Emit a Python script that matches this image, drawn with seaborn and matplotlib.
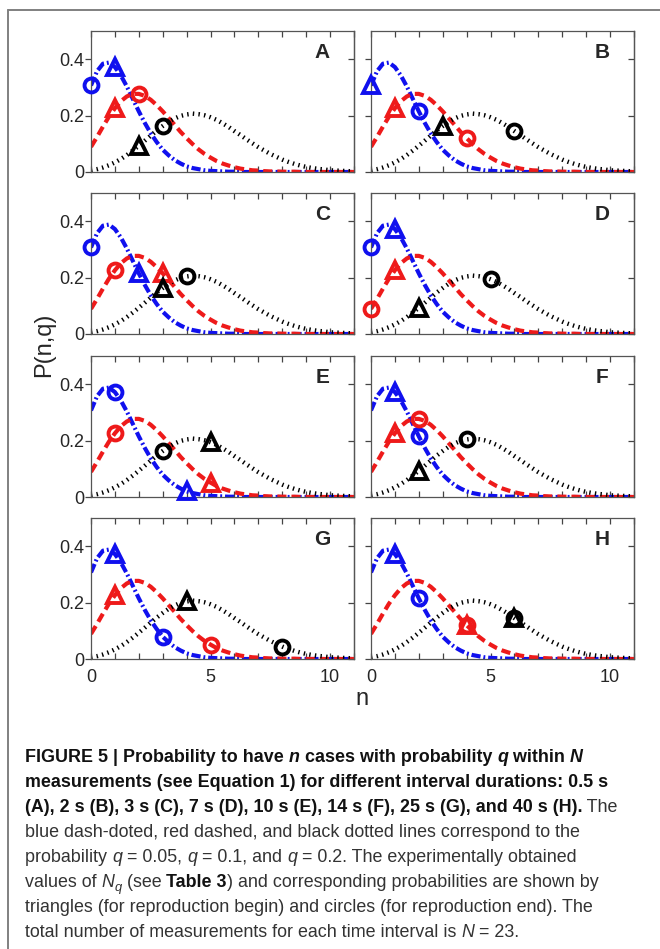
import numpy as np
import matplotlib
matplotlib.use("Agg")
import matplotlib.pyplot as plt
import seaborn as sns
from matplotlib import font_manager
from matplotlib.lines import Line2D

sns.set_style("ticks")
plt.rcParams["font.family"] = ["Liberation Sans", "DejaVu Sans"]

n_grid = [0, 0.25, 0.5, 0.75, 1, 1.25, 1.5, 1.75, 2, 2.25, 2.5, 2.75, 3, 3.25, 3.5, 3.75,
          4, 4.25, 4.5, 4.75, 5, 5.25, 5.5, 5.75, 6, 6.25, 6.5, 6.75, 7, 7.25, 7.5, 7.75,
          8, 8.25, 8.5, 8.75, 9, 9.25, 9.5, 9.75, 10, 10.25, 10.5, 10.75, 11]
p_q005 = [0.307, 0.357, 0.384, 0.388, 0.372, 0.342, 0.303, 0.259, 0.215, 0.174, 0.137, 0.106,
          0.079, 0.059, 0.042, 0.030, 0.020, 0.014, 0.010, 0.006, 0.004, 0.003, 0.002, 0.001,
          0.001, 0, 0, 0, 0, 0, 0, 0, 0, 0, 0, 0, 0, 0, 0, 0, 0, 0, 0, 0, 0]
p_q01 = [0.089, 0.124, 0.161, 0.196, 0.226, 0.251, 0.268, 0.277, 0.277, 0.270, 0.256, 0.237,
         0.215, 0.191, 0.167, 0.142, 0.120, 0.099, 0.080, 0.064, 0.051, 0.039, 0.030, 0.023,
         0.017, 0.012, 0.009, 0.006, 0.005, 0.003, 0.002, 0.002, 0.001, 0.001, 0.001,
         0, 0, 0, 0, 0, 0, 0, 0, 0, 0]
p_q02 = [0.006, 0.010, 0.016, 0.024, 0.034, 0.046, 0.060, 0.076, 0.093, 0.111, 0.129, 0.147,
         0.163, 0.178, 0.190, 0.199, 0.204, 0.207, 0.205, 0.201, 0.194, 0.185, 0.173, 0.160,
         0.145, 0.131, 0.116, 0.102, 0.088, 0.076, 0.064, 0.054, 0.044, 0.036, 0.029, 0.023,
         0.018, 0.014, 0.011, 0.009, 0.006, 0.005, 0.004, 0.003, 0.002]

panels = ["A", "B", "C", "D", "E", "F", "G", "H"]
# experimental N_q per panel: triangles = reproduction begin, circles = reproduction end
tri_q005 = [1, 0, 2, 1, 4, 1, 1, 1]
circ_q005 = [0, 2, 0, 0, 1, 2, 3, 2]
tri_q01 = [1, 1, 3, 1, 5, 1, 1, 4]
circ_q01 = [2, 4, 1, 0, 1, 2, 5, 4]
tri_q02 = [2, 3, 3, 2, 5, 2, 4, 6]
circ_q02 = [3, 6, 4, 5, 3, 4, 8, 6]

series = [
    (p_q005, tri_q005, circ_q005, "#1010ee", (0, (2.2, 0.7, 0.45, 0.7)), 3.0),
    (p_q01, tri_q01, circ_q01, "#ee1a1a", (0, (2.2, 1.2)), 3.0),
    (p_q02, tri_q02, circ_q02, "black", (0, (0.32, 0.95)), 3.2),
]

W, H = 660, 949
fig = plt.figure(figsize=(W / 100, H / 100), dpi=100)
col_left = [91, 371]
row_top = [31, 193, 356, 518]
aw, ah = 263, 141
xlabels = ["0", "", "", "", "", "5", "", "", "", "", "10", ""]

for i, lab in enumerate(panels):
    r, c = divmod(i, 2)
    ax = fig.add_axes([col_left[c] / W, 1 - (row_top[r] + ah) / H, aw / W, ah / H])
    for vals, tri, circ, color, ls, lw in series:
        sns.lineplot(x=n_grid, y=vals, ax=ax, color=color, lw=lw, linestyle=ls)
    for vals, tri, circ, color, ls, lw in series:
        ax.plot([circ[i]], [vals[n_grid.index(circ[i])]], marker="o", ms=10, mfc="none",
                mec=color, mew=2.8, ls="none", zorder=5, clip_on=False)
        ax.plot([tri[i]], [vals[n_grid.index(tri[i])]], marker="^", ms=12, mfc="none",
                mec=color, mew=2.8, ls="none", zorder=5, clip_on=False)
    ax.set_xlim(0, 11)
    ax.set_ylim(0, 0.5)
    ax.set_xticks(range(12))
    ax.set_yticks([0, 0.2, 0.4])
    ax.set_xticklabels(xlabels if r == 3 else [""] * 12)
    ax.set_yticklabels(["0", "0.2", "0.4"] if c == 0 else ["", "", ""])
    ax.tick_params(axis="x", direction="in", top=True, bottom=True, length=4, width=0.9,
                   pad=7, labelsize=13, color="#444")
    ax.tick_params(axis="y", direction="out", left=True, right=False, length=4, width=0.9,
                   pad=1, labelsize=13, color="#444")
    sec = ax.secondary_yaxis("right")
    sec.set_yticks([0, 0.2, 0.4])
    sec.tick_params(direction="in", length=4, width=0.9, labelright=False, color="#444")
    for sp in list(ax.spines.values()) + [sec.spines["right"]]:
        sp.set_color("#555")
        sp.set_linewidth(0.9)
    ax.set_xlabel("")
    ax.set_ylabel("")
    ax.text(0.88, 0.845, lab, transform=ax.transAxes, ha="center", va="center",
            fontsize=15, fontweight="bold")

fig.text(44 / W, 1 - 345 / H, "P(n,q)", rotation=90, ha="center", va="center", fontsize=17)
fig.text(362 / W, 1 - 699 / H, "n", ha="center", va="center", fontsize=17)

# frame of the figure box (top and left only)
fig.add_artist(Line2D([8 / W, 1], [1 - 10 / H, 1 - 10 / H], transform=fig.transFigure,
                      color="#808080", lw=1.4))
fig.add_artist(Line2D([8 / W, 8 / W], [1 - 10 / H, 0], transform=fig.transFigure,
                      color="#808080", lw=1.4))

# caption
names = {f.name for f in font_manager.fontManager.ttflist}
cap_family = "Liberation Sans Narrow" if "Liberation Sans Narrow" in names else "Liberation Sans"
caption = [
    [("FIGURE 5 | Probability to have ", "b"), ("n", "bi"), (" cases with probability ", "b"),
     ("q", "bi"), (" within ", "b"), ("N", "bi")],
    [("measurements (see Equation 1) for different interval durations: 0.5 s", "b")],
    [("(A), 2 s (B), 3 s (C), 7 s (D), 10 s (E), 14 s (F), 25 s (G), and 40 s (H).", "b"),
     (" The", "r")],
    [("blue dash-doted, red dashed, and black dotted lines correspond to the", "r")],
    [("probability ", "r"), ("q", "i"), (" = 0.05, ", "r"), ("q", "i"), (" = 0.1, and ", "r"),
     ("q", "i"), (" = 0.2. The experimentally obtained", "r")],
    [("values of ", "r"), ("N", "i"), ("q", "sub"), (" (see ", "r"), ("Table 3", "b"),
     (") and corresponding probabilities are shown by", "r")],
    [("triangles (for reproduction begin) and circles (for reproduction end). The", "r")],
    [("total number of measurements for each time interval is ", "r"), ("N", "i"),
     (" = 23.", "r")],
]
# right ends of the caption lines in the reference (pixels)
line_ends = [608, 624, 614, 601, 612, 620, 612, 551]
renderer = fig.canvas.get_renderer()


def style_kw(st, size):
    kw = dict(family=cap_family, fontsize=size, color="#333333")
    if st in ("b", "bi"):
        kw.update(fontweight="bold", color="#111111")
    if st in ("bi", "i", "sub"):
        kw.update(style="italic")
    if st == "sub":
        kw.update(fontsize=size * 0.72)
    return kw


def seg_width(text, kw):
    t = fig.text(0, 0, "|" + text + "|", **kw)
    w1 = t.get_window_extent(renderer).width
    t.remove()
    t = fig.text(0, 0, "||", **kw)
    w0 = t.get_window_extent(renderer).width
    t.remove()
    return w1 - w0


trial = 12
cap_size = min(
    trial * (end - 25) / sum(seg_width(s, style_kw(st, trial)) for s, st in line)
    for line, end in zip(caption, line_ends)
)

for k, line in enumerate(caption):
    x = 25
    base = 762 + 25 * k
    for s, st in line:
        kw = style_kw(st, cap_size)
        dy = 4 if st == "sub" else 0
        fig.text(x / W, 1 - (base + dy) / H, s, ha="left", va="baseline", **kw)
        x += seg_width(s, kw)

fig.savefig("out.png", dpi=100)
